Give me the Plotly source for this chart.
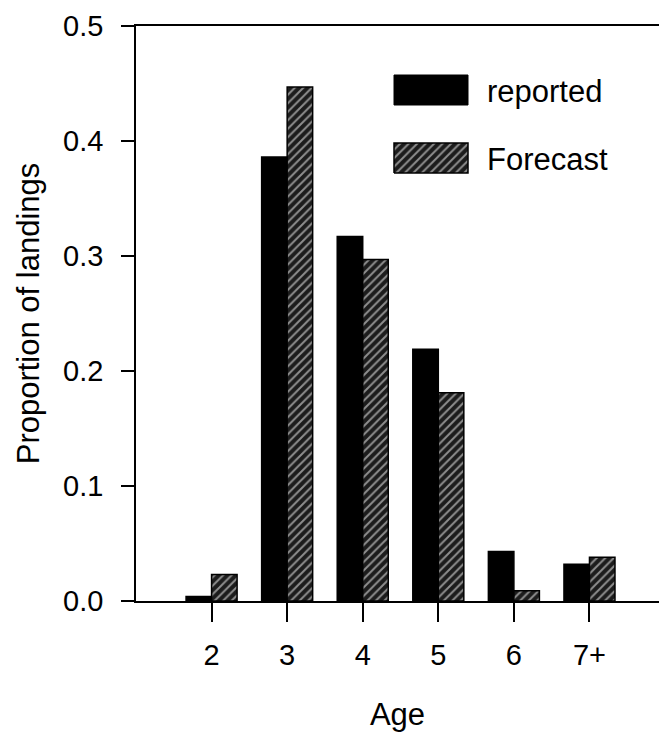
import plotly.graph_objects as go

ages = ["2", "3", "4", "5", "6", "7+"]
reported = [0.004, 0.386, 0.317, 0.219, 0.043, 0.032]
forecast = [0.023, 0.447, 0.297, 0.181, 0.009, 0.038]
y_ticks = [0.0, 0.1, 0.2, 0.3, 0.4, 0.5]

FONT = "Liberation Sans, Arial, sans-serif"
W, H = 659, 732
ML, MR, MT, MB = 136, 0, 26, 131
PW, PH = W - ML - MR, H - MT - MB

def px_x(x):
    return (x - ML) / PW

def px_y(y):
    return 1 - (y - MT) / PH

fig = go.Figure()
fig.add_trace(go.Bar(
    x=ages, y=reported, name="reported",
    marker=dict(color="black", line=dict(color="black", width=1.5)),
    showlegend=False,
))
fig.add_trace(go.Bar(
    x=ages, y=forecast, name="Forecast",
    marker=dict(
        color="#1c1c1c",
        line=dict(color="black", width=1.5),
        pattern=dict(shape="/", fgcolor="white", bgcolor="#1c1c1c", size=6, solidity=0.33),
    ),
    showlegend=False,
))

# legend swatch for Forecast (overlay axes in paper-like units)
lx0, lx1 = px_x(394), px_x(468)
fy0, fy1 = px_y(173), px_y(143)
fig.add_trace(go.Scatter(
    x=[lx0, lx1, lx1, lx0, lx0], y=[fy0, fy0, fy1, fy1, fy0],
    xaxis="x2", yaxis="y2", mode="lines", fill="toself",
    fillcolor="#1c1c1c",
    fillpattern=dict(shape="/", fgcolor="white", bgcolor="#1c1c1c", size=6, solidity=0.33),
    line=dict(color="black", width=1.5), showlegend=False, hoverinfo="skip",
))

fig.add_shape(type="rect", xref="paper", yref="paper",
              x0=lx0, x1=lx1, y0=px_y(105), y1=px_y(75),
              fillcolor="black", line=dict(color="black", width=1))

fig.add_annotation(x=px_x(485), y=px_y(91), xref="paper", yref="paper",
                   text="reported", showarrow=False, xanchor="left", yanchor="middle",
                   font=dict(family=FONT, size=31, color="black"))
fig.add_annotation(x=px_x(485), y=px_y(159), xref="paper", yref="paper",
                   text="Forecast", showarrow=False, xanchor="left", yanchor="middle",
                   font=dict(family=FONT, size=31, color="black"))

# tick at the hidden first category position (axis origin)
fig.add_shape(type="line", xref="x", yref="y", x0=-1, x1=-1, y0=0, y1=-19,
              ysizemode="pixel", yanchor=0, line=dict(color="black", width=1.5))

fig.update_layout(
    width=W, height=H,
    margin=dict(l=ML, r=MR, t=MT, b=MB),
    paper_bgcolor="white", plot_bgcolor="white",
    barmode="group", bargap=0.325, bargroupgap=0,
    font=dict(family=FONT, size=29, color="black"),
    xaxis=dict(
        type="category", categoryorder="array", categoryarray=ages,
        range=[-1, 5.92],
        showline=True, linecolor="black", linewidth=1.5, mirror=True,
        ticks="outside", ticklen=19, tickwidth=1.5, tickcolor="black",
        showgrid=False, zeroline=False,
        tickfont=dict(family=FONT, size=29),
        ticklabelstandoff=8,
        title=dict(text="Age", font=dict(family=FONT, size=31), standoff=34),
    ),
    yaxis=dict(
        range=[0, 0.5], tickvals=y_ticks, tickformat=".1f",
        showline=True, linecolor="black", linewidth=1.5,
        ticks="outside", ticklen=13, tickwidth=1.5, tickcolor="black",
        showgrid=False, zeroline=False,
        tickfont=dict(family=FONT, size=29),
        ticklabelstandoff=12,
        title=dict(text="Proportion of landings", font=dict(family=FONT, size=31), standoff=14),
    ),
    xaxis2=dict(overlaying="x", range=[0, 1], visible=False, fixedrange=True),
    yaxis2=dict(overlaying="y", range=[0, 1], visible=False, fixedrange=True),
)

fig.write_html("out.html")
